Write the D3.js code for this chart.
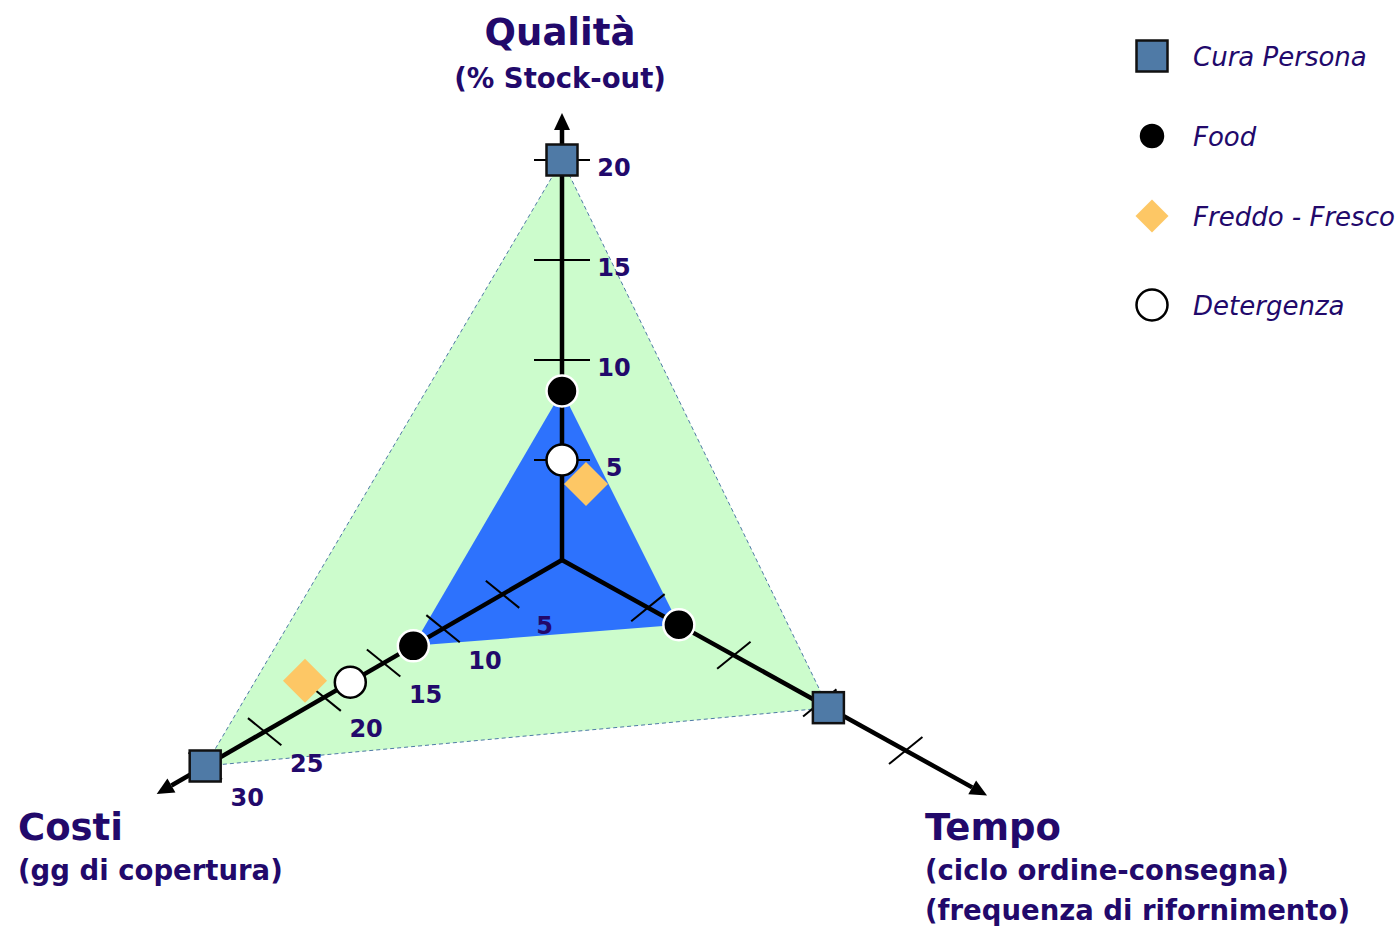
<!DOCTYPE html>
<html>
<head>
<meta charset="utf-8">
<script src="https://cdn.jsdelivr.net/npm/d3@7"></script>
<style>
  body { margin: 0; background: #fff; }
  svg { display: block; }
  .lbl { font-family: "DejaVu Sans", sans-serif; fill: #22096b; }
</style>
</head>
<body>
<div id="chart"></div>
<script>
// data
const seriesNames = ["Cura Persona", "Food", "Freddo - Fresco", "Detergenza"];
const qualitaValues = [20, 8.45, 3.8, 5.0];     // % stock-out
const costiValues = [30, 12.5, 20.6, 17.8];     // gg di copertura
const tempoValues = [3.1, 1.36, null, null];    // no label on this axis
const qualitaTicks = [5, 10, 15, 20];
const costiTicks = [5, 10, 15, 20, 25, 30];
const tempoTicks = [1, 2, 3, 4];

const width = 1398, height = 927;
const cx = 562, cy = 560;

const svg = d3.select("#chart").append("svg")
    .attr("width", width)
    .attr("height", height);

// one radial scale per axis (px from the centre)
const axes = [
  { key: "qualita", angle: -90, scale: d3.scaleLinear().domain([0, 20]).range([0, 400]),
    values: qualitaValues, ticks: qualitaTicks, showLabels: true, tipLen: 447, tickAngle: 0, tickHalf: 28,
    labelDx: 52, labelDy: 16 },
  { key: "costi", angle: 150, scale: d3.scaleLinear().domain([0, 30]).range([0, 412]),
    values: costiValues, ticks: costiTicks, showLabels: true, tipLen: 468, tickAngle: 39, tickHalf: 21.5,
    labelDx: 42, labelDy: 40 },
  { key: "tempo", angle: 29, scale: d3.scaleLinear().domain([0, 4]).range([0, 393]),
    values: tempoValues, ticks: tempoTicks, showLabels: false, tipLen: 486, tickAngle: -39, tickHalf: 21.5 }
];

function pos(ax, r) {
  const a = ax.angle * Math.PI / 180;
  return [cx + r * Math.cos(a), cy + r * Math.sin(a)];
}
function dir(ax) {
  const a = ax.angle * Math.PI / 180;
  return [Math.cos(a), Math.sin(a)];
}

// green area = Cura Persona, blue area = Food
const polyPoints = i => axes.map(ax => pos(ax, ax.scale(ax.values[i])));

svg.append("polygon")
    .attr("points", polyPoints(0).map(p => p.join(",")).join(" "))
    .attr("fill", "#ccfccc")
    .attr("stroke", "#4f7aa6")
    .attr("stroke-width", 1)
    .attr("stroke-dasharray", "4,3");

svg.append("polygon")
    .attr("points", polyPoints(1).map(p => p.join(",")).join(" "))
    .attr("fill", "#2d72fd");

// axes with arrow heads
axes.forEach(ax => {
  const [dx, dy] = dir(ax);
  const tip = pos(ax, ax.tipLen);
  const base = pos(ax, ax.tipLen - 17);
  svg.append("line")
      .attr("x1", cx).attr("y1", cy)
      .attr("x2", base[0]).attr("y2", base[1])
      .attr("stroke", "#000")
      .attr("stroke-width", 4.5);
  const px = -dy, py = dx;
  svg.append("polygon")
      .attr("points", [
        tip,
        [base[0] + px * 8, base[1] + py * 8],
        [base[0] - px * 8, base[1] - py * 8]
      ].map(p => p.join(",")).join(" "))
      .attr("fill", "#000");

  // ticks
  const ta = ax.tickAngle * Math.PI / 180;
  const tx = Math.cos(ta) * ax.tickHalf, ty = Math.sin(ta) * ax.tickHalf;
  const g = svg.append("g");
  g.selectAll("line")
    .data(ax.ticks)
    .enter()
    .append("line")
      .attr("x1", d => pos(ax, ax.scale(d))[0] - tx)
      .attr("y1", d => pos(ax, ax.scale(d))[1] - ty)
      .attr("x2", d => pos(ax, ax.scale(d))[0] + tx)
      .attr("y2", d => pos(ax, ax.scale(d))[1] + ty)
      .attr("stroke", "#000")
      .attr("stroke-width", 2);

  if (ax.showLabels) {
    g.selectAll("text")
      .data(ax.ticks)
      .enter()
      .append("text")
        .attr("class", "lbl")
        .attr("x", d => pos(ax, ax.scale(d))[0] + ax.labelDx)
        .attr("y", d => pos(ax, ax.scale(d))[1] + ax.labelDy)
        .attr("text-anchor", "middle")
        .attr("font-size", 24)
        .attr("font-weight", "bold")
        .text(d => d);
  }
});

// marker symbols
function drawMarker(sel, i, x, y, legend) {
  if (i === 0) {
    const s = 31;
    sel.append("rect")
        .attr("x", x - s / 2).attr("y", y - s / 2)
        .attr("width", s).attr("height", s)
        .attr("fill", "#4f7aa6")
        .attr("stroke", "#111")
        .attr("stroke-width", 2.5);
  } else if (i === 1) {
    sel.append("circle")
        .attr("cx", x).attr("cy", y).attr("r", legend ? 13.5 : 15.5)
        .attr("fill", "#000")
        .attr("stroke", "#fff")
        .attr("stroke-width", 2.5);
  } else if (i === 2) {
    const h = legend ? 16.5 : 22;
    sel.append("polygon")
        .attr("points", [[x, y - h], [x + h, y], [x, y + h], [x - h, y]].map(p => p.join(",")).join(" "))
        .attr("fill", "#fdc765");
  } else {
    sel.append("circle")
        .attr("cx", x).attr("cy", y).attr("r", 15.5)
        .attr("fill", "#fff")
        .attr("stroke", "#000")
        .attr("stroke-width", 2.5);
  }
}

// draw order: diamonds, open circles, food, squares
const nudge = 24; // diamonds sit beside the axis
[2, 3, 1, 0].forEach(i => {
  axes.forEach(ax => {
    const v = ax.values[i];
    if (v == null) return;
    let [x, y] = pos(ax, ax.scale(v));
    if (i === 2) {
      const [dx, dy] = dir(ax);
      x += -dy * nudge;
      y += dx * nudge;
    }
    drawMarker(svg, i, x, y, false);
  });
});

// axis titles
const titles = [
  { lines: ["Qualità", "(% Stock-out)"], x: 560, y: [45, 88], anchor: "middle" },
  { lines: ["Costi", "(gg di copertura)"], x: 18, y: [840, 880], anchor: "start" },
  { lines: ["Tempo", "(ciclo ordine-consegna)", "(frequenza di rifornimento)"], x: 925, y: [840, 880, 920], anchor: "start" }
];
titles.forEach(t => {
  t.lines.forEach((line, j) => {
    svg.append("text")
        .attr("class", "lbl")
        .attr("x", t.x)
        .attr("y", t.y[j])
        .attr("text-anchor", t.anchor)
        .attr("font-weight", "bold")
        .attr("font-size", j === 0 ? 37 : 27.5)
        .text(line);
  });
});

// legend
const legendY = [56, 136, 216, 305];
seriesNames.forEach((name, i) => {
  const g = svg.append("g");
  drawMarker(g, i, 1152, legendY[i], true);
  g.append("text")
      .attr("class", "lbl")
      .attr("x", 1193)
      .attr("y", legendY[i] + 10)
      .attr("font-size", 26)
      .attr("font-style", "italic")
      .text(name);
});
</script>
</body>
</html>
